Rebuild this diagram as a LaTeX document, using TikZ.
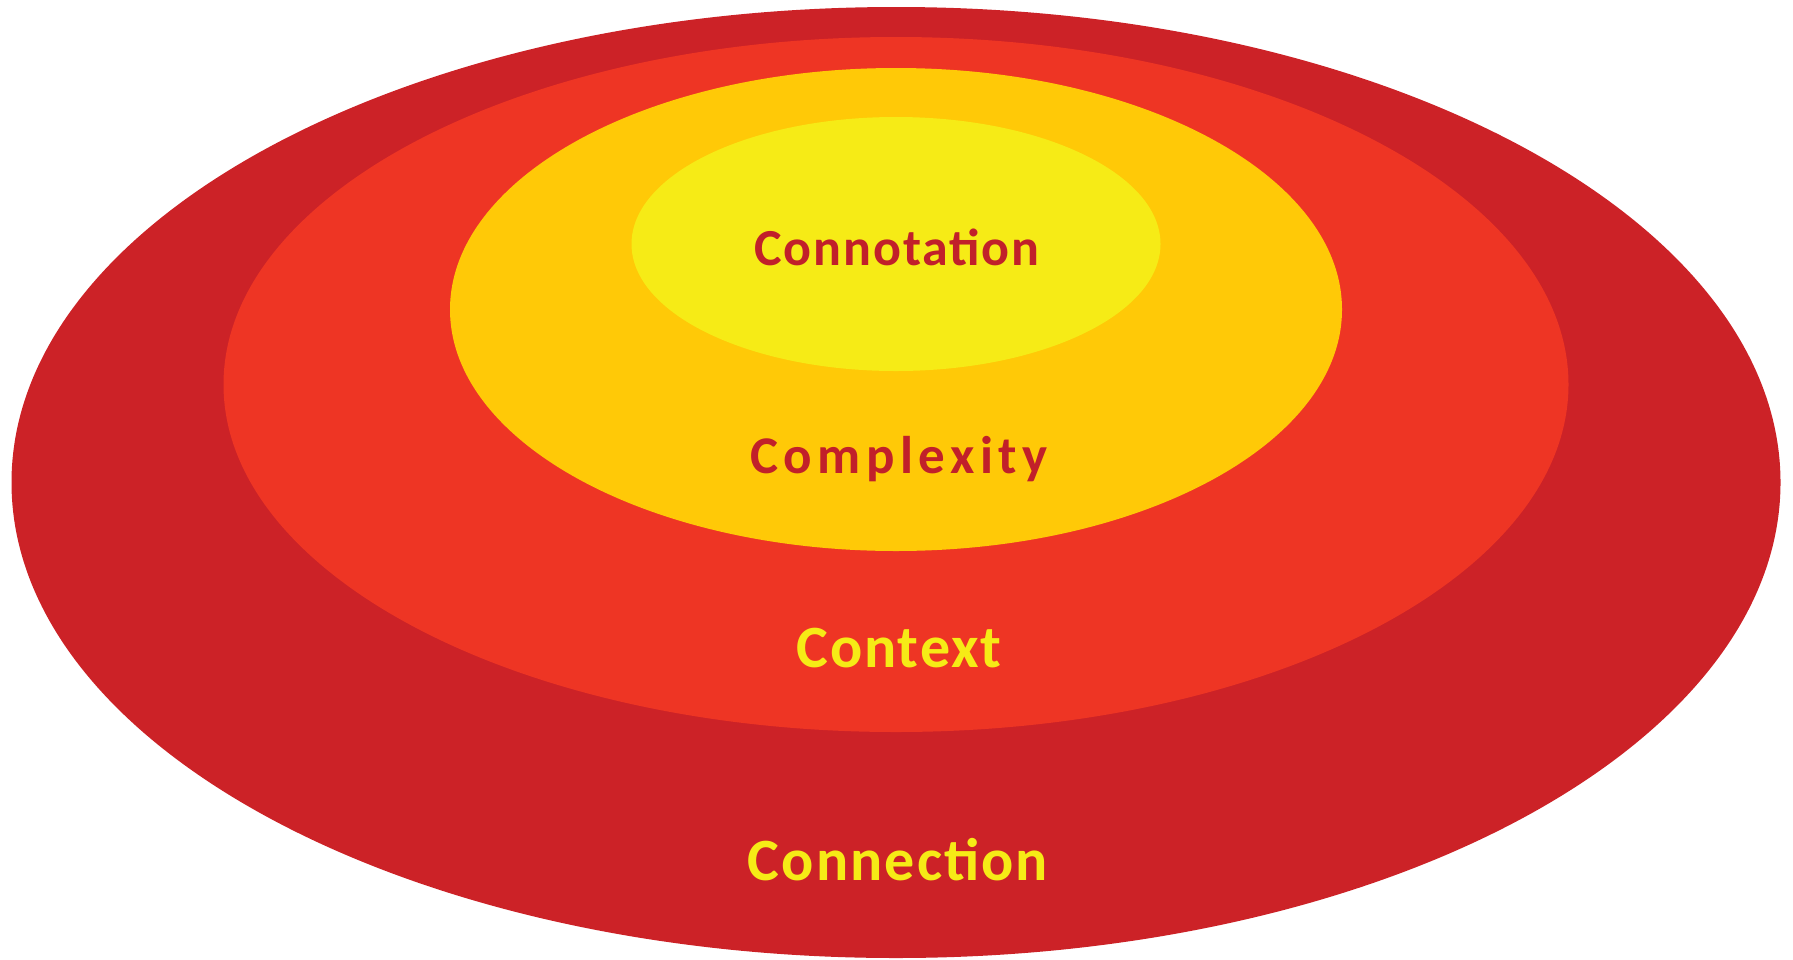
\documentclass[tikz,border=0pt]{standalone}
\usepackage{fontspec}
\setmainfont{Carlito}
\definecolor{ring1}{RGB}{204,34,39}
\definecolor{ring2}{RGB}{238,53,36}
\definecolor{ring3}{RGB}{255,201,7}
\definecolor{ring4}{RGB}{246,235,22}
\definecolor{darktxt}{RGB}{193,32,42}
\definecolor{lighttxt}{RGB}{246,235,22}
\tikzset{
  ringshape/.style={draw=none},
  labeltext/.style={anchor=base, inner sep=0pt},
  smalllabel/.style={labeltext, font=\fontsize{52}{52}\selectfont\bfseries},
  midlabel/.style={labeltext, font=\fontsize{53}{53}\selectfont\bfseries},
  biglabel/.style={labeltext, font=\fontsize{60}{60}\selectfont\bfseries}
}
\begin{document}
\begin{tikzpicture}[x=1pt,y=-1pt]
\useasboundingbox (0,0) rectangle (1793,959);
\fill[ring1] (896,482.5) ellipse [x radius=884.5, y radius=475.5];
\fill[ring2] (896,384.5) ellipse [x radius=672.5, y radius=347.5];
\fill[ring3] (896,309.5) ellipse [x radius=446, y radius=241.5];
\fill[ring4] (896,244) ellipse [x radius=264.5, y radius=127];
\node[smalllabel, text=darktxt] (connotation) at (897,265) {\addfontfeatures{LetterSpace=3.6}Connotation};
\node[midlabel, text=darktxt] (complexity) at (899,473) {\addfontfeatures{LetterSpace=10.5}Complexity};
\node[biglabel, text=lighttxt] (context) at (899,667) {\addfontfeatures{LetterSpace=3.3}Context};
\node[biglabel, text=lighttxt] (connection) at (898,880) {\addfontfeatures{LetterSpace=3.5}Connection};
\end{tikzpicture}
\end{document}
